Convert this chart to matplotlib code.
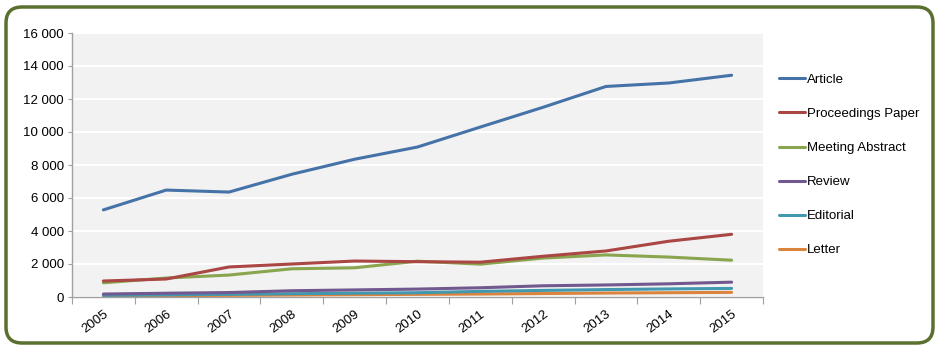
import matplotlib
matplotlib.use("Agg")
import matplotlib.pyplot as plt
from matplotlib.patches import FancyBboxPatch
from matplotlib.ticker import FuncFormatter
import numpy as np

plt.rcParams['font.family'] = ['Liberation Sans', 'DejaVu Sans']

years = ["2005", "2006", "2007", "2008", "2009", "2010",
         "2011", "2012", "2013", "2014", "2015"]
article = [5280, 6480, 6360, 7440, 8350, 9090, 10300, 11500, 12760, 12970, 13440]
proceedings = [970, 1090, 1820, 2000, 2180, 2140, 2110, 2470, 2790, 3380, 3800]
meeting = [860, 1150, 1330, 1710, 1770, 2170, 1990, 2360, 2550, 2420, 2230]
review = [180, 230, 270, 380, 430, 480, 560, 680, 730, 800, 900]
editorial = [100, 130, 160, 200, 230, 260, 340, 400, 450, 490, 520]
letter = [60, 80, 100, 120, 140, 160, 180, 210, 240, 260, 280]

series = [("Article", article, "#4572A7"),
          ("Proceedings Paper", proceedings, "#AA4643"),
          ("Meeting Abstract", meeting, "#89A54E"),
          ("Review", review, "#71588F"),
          ("Editorial", editorial, "#4198AF"),
          ("Letter", letter, "#DB843D")]

fig = plt.figure(figsize=(9.41, 3.53), dpi=100)

# rounded green frame
frame = FancyBboxPatch((6 / 941, 10 / 353), 927 / 941, 336 / 353,
                       boxstyle="round,pad=0,rounding_size=0.017",
                       transform=fig.transFigure, facecolor="white",
                       edgecolor="#5B6F2F", linewidth=2.5, zorder=-5,
                       mutation_aspect=941 / 353)
fig.patches.append(frame)

ax = fig.add_axes([72 / 941, 56 / 353, 691 / 941, 264 / 353])
ax.set_zorder(2)
ax.set_facecolor("#F2F2F2")

x = np.arange(len(years))
for name, vals, col in series[::-1]:
    ax.plot(x, vals, color=col, linewidth=2.2, label=name,
            solid_capstyle="round", zorder=3)

ax.set_xlim(-0.5, len(years) - 0.5)
ax.set_ylim(0, 16000)
ax.set_yticks(range(0, 16001, 2000))
ax.yaxis.set_major_formatter(FuncFormatter(
    lambda v, p: "{:,}".format(int(v)).replace(",", " ")))
ax.grid(axis="y", color="white", linewidth=1.5, zorder=1)
ax.set_axisbelow(True)

ax.set_xticks(np.arange(-0.5, len(years)), minor=False)
ax.set_xticklabels([])
ax.set_xticks(x, minor=True)
ax.set_xticklabels(years, minor=True, rotation=37, ha="right",
                   rotation_mode="anchor", fontsize=9.5)
ax.tick_params(axis="x", which="minor", length=0, pad=8)
ax.tick_params(axis="x", which="major", length=5, color="#A0A0A0")
ax.tick_params(axis="y", length=3, color="#A0A0A0", labelsize=9.5, pad=3)

for pos in ("top", "right"):
    ax.spines[pos].set_visible(False)
for pos in ("left", "bottom"):
    ax.spines[pos].set_color("#A0A0A0")
    ax.spines[pos].set_linewidth(1.0)

handles, labels = ax.get_legend_handles_labels()
leg = fig.legend(handles[::-1], labels[::-1], loc="upper left",
                 bbox_to_anchor=(767 / 941, 291 / 353), frameon=False,
                 fontsize=9.5, handlelength=2.0, handletextpad=0.1,
                 labelspacing=1.65)

fig.savefig("out.png", dpi=100)
